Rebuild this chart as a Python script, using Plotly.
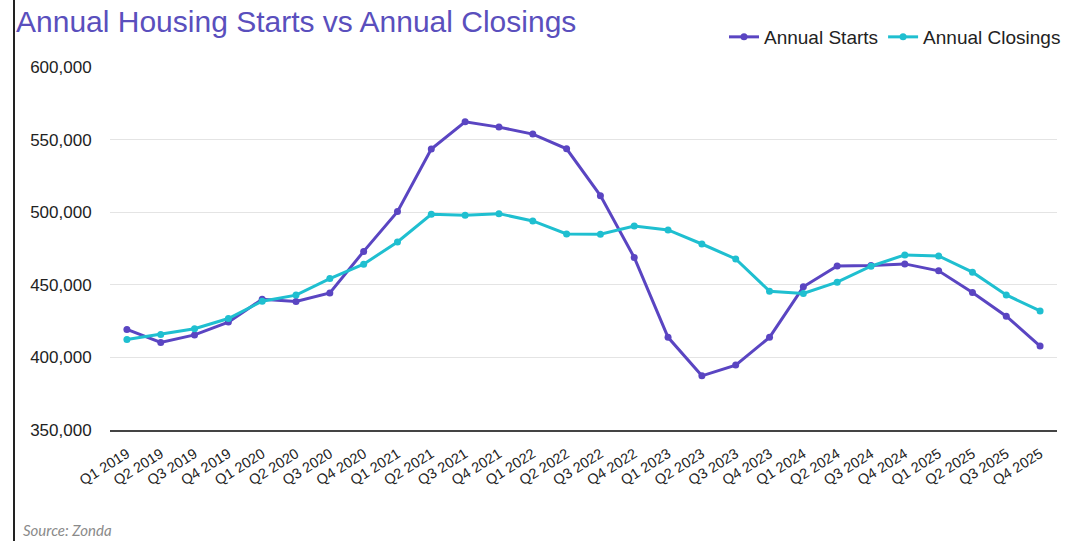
import plotly.graph_objects as go

# Quarter labels
quarters = [
    "Q1 2019", "Q2 2019", "Q3 2019", "Q4 2019",
    "Q1 2020", "Q2 2020", "Q3 2020", "Q4 2020",
    "Q1 2021", "Q2 2021", "Q3 2021", "Q4 2021",
    "Q1 2022", "Q2 2022", "Q3 2022", "Q4 2022",
    "Q1 2023", "Q2 2023", "Q3 2023", "Q4 2023",
    "Q1 2024", "Q2 2024", "Q3 2024", "Q4 2024",
    "Q1 2025", "Q2 2025", "Q3 2025", "Q4 2025",
]

# Annual (trailing four-quarter) housing starts
annual_starts = [
    419300, 410300, 415500, 424300,
    440100, 438500, 444400, 473000,
    500400, 543500, 562300, 558600,
    553800, 543700, 511400, 468800,
    413800, 387300, 394700, 413800,
    448600, 463000, 463300, 464400,
    459600, 444700, 428400, 407800,
]

# Annual (trailing four-quarter) closings
annual_closings = [
    412400, 415800, 419700, 426800,
    438700, 442900, 454300, 464200,
    479500, 498600, 497900, 499000,
    494000, 485000, 484800, 490500,
    487800, 478100, 467800, 445600,
    444000, 451800, 462800, 470600,
    469900, 458700, 443000, 432000,
]

y_ticks = [350000, 400000, 450000, 500000, 550000, 600000]
y_tick_text = ["350,000", "400,000", "450,000", "500,000", "550,000", "600,000"]

STARTS_COLOR = "#5a45c2"
CLOSINGS_COLOR = "#1fbfd0"
FONT = "Liberation Sans, Arial, sans-serif"

W, H = 1069, 541
ML, MR, MT, MB = 110, 12, 67, 111
PW = W - ML - MR
PH = H - MT - MB


def px_x(x):
    return (x - ML) / PW


def px_y(y):
    return (H - MB - y) / PH


fig = go.Figure()

fig.add_trace(go.Scatter(
    x=quarters, y=annual_starts, name="Annual Starts",
    mode="lines+markers",
    line=dict(color=STARTS_COLOR, width=3),
    marker=dict(color=STARTS_COLOR, size=7),
))
fig.add_trace(go.Scatter(
    x=quarters, y=annual_closings, name="Annual Closings",
    mode="lines+markers",
    line=dict(color=CLOSINGS_COLOR, width=3),
    marker=dict(color=CLOSINGS_COLOR, size=7),
))

fig.update_layout(
    width=W, height=H,
    margin=dict(l=ML, r=MR, t=MT, b=MB, autoexpand=False),
    paper_bgcolor="white", plot_bgcolor="white",
    font=dict(family=FONT, color="#222222"),
    title=dict(
        text="Annual Housing Starts vs Annual Closings",
        x=16 / W, xanchor="left",
        y=1 - 21 / H, yanchor="middle",
        font=dict(family=FONT, size=30, color="#5a4fbd"),
    ),
    legend=dict(
        orientation="h",
        x=px_x(724), xanchor="left",
        y=px_y(37), yanchor="middle",
        font=dict(family=FONT, size=19, color="#222222"),
        bgcolor="rgba(0,0,0,0)",
        itemwidth=30,
        traceorder="normal",
    ),
    xaxis=dict(
        type="category",
        tickangle=-32,
        tickfont=dict(family=FONT, size=14.5, color="#222222"),
        showgrid=False,
        showline=True, linecolor="#444444", linewidth=2,
        ticks="",
        ticklabelstandoff=8,
        range=[-0.5, len(quarters) - 0.5],
    ),
    yaxis=dict(
        range=[350000, 600000],
        tickvals=y_ticks, ticktext=y_tick_text,
        tickfont=dict(family=FONT, size=17, color="#222222"),
        showgrid=True, gridcolor="#e4e4e4", gridwidth=1.3,
        zeroline=False, showline=False,
        ticks="outside", ticklen=14, tickcolor="rgba(0,0,0,0)",
    ),
    showlegend=True,
)

# Left border rule of the panel
fig.add_shape(
    type="line", xref="paper", yref="paper",
    x0=px_x(14), x1=px_x(14), y0=px_y(0), y1=px_y(H),
    line=dict(color="#222222", width=2),
)

fig.add_annotation(
    text="<i>Source: Zonda</i>",
    xref="paper", yref="paper",
    x=px_x(21), xanchor="left",
    y=px_y(530), yanchor="middle",
    showarrow=False,
    font=dict(family="Lato, sans-serif", size=15, color="#8a8a8a"),
)

fig.write_html("out.html")
